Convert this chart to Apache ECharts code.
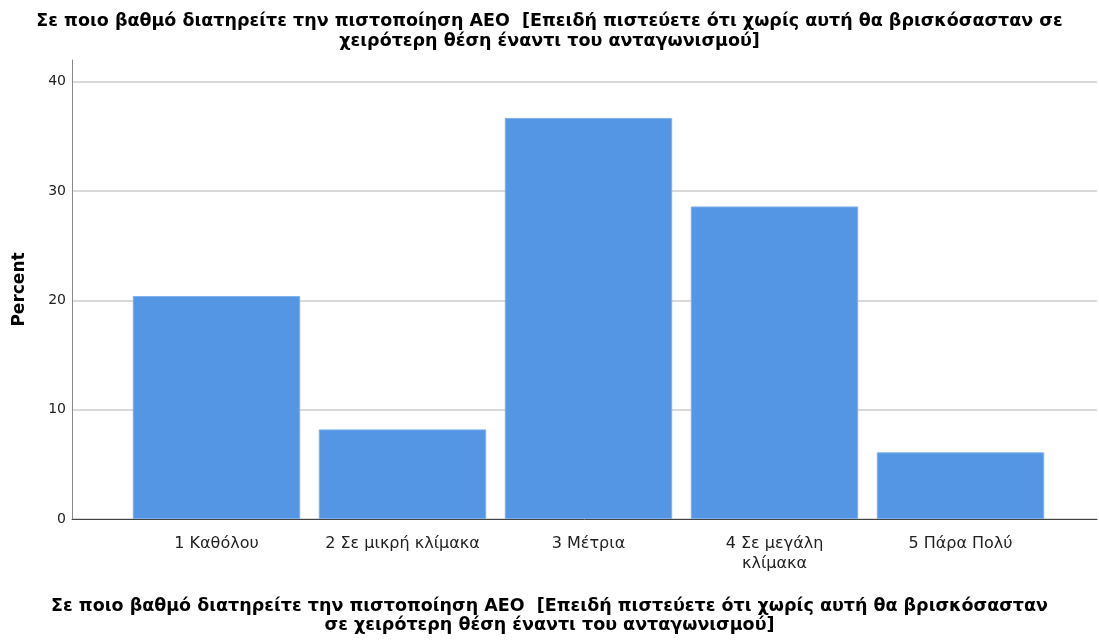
<!DOCTYPE html>
<html>
<head>
<meta charset="utf-8">
<script src="https://cdn.jsdelivr.net/npm/echarts@6/dist/echarts.min.js"></script>
<style>
html,body{margin:0;padding:0;background:#fff;}
#chart{width:1099px;height:641px;}
</style>
</head>
<body>
<div id="chart"></div>
<script>
// categories and percents (n = 49)
var categories = ['1 Καθόλου', '2 Σε μικρή κλίμακα', '3 Μέτρια', '4 Σε μεγάλη\nκλίμακα', '5 Πάρα Πολύ'];
var percents = [20.4, 8.2, 36.7, 28.6, 6.1];
var yTicks = [0, 10, 20, 30, 40];

var titleText = 'Σε ποιο βαθμό διατηρείτε την πιστοποίηση ΑΕΟ  [Επειδή πιστεύετε ότι χωρίς αυτή θα βρισκόσασταν σε\nχειρότερη θέση έναντι του ανταγωνισμού]';
var xTitleText = 'Σε ποιο βαθμό διατηρείτε την πιστοποίηση ΑΕΟ  [Επειδή πιστεύετε ότι χωρίς αυτή θα βρισκόσασταν\nσε χειρότερη θέση έναντι του ανταγωνισμού]';

var myChart = echarts.init(document.getElementById('chart'));
var font = '"DejaVu Sans", sans-serif';

var option = {
    backgroundColor: '#fff',
    animation: false,
    title: [
        {
            text: titleText,
            left: 'center',
            top: 6,
            textStyle: {fontFamily: font, fontSize: 17.5, fontWeight: 'bold', color: '#000', lineHeight: 20}
        },
        {
            text: xTitleText,
            left: 'center',
            top: 592,
            textStyle: {fontFamily: font, fontSize: 17.5, fontWeight: 'bold', color: '#000', lineHeight: 19}
        }
    ],
    grid: [
        {left: 72, right: 2, top: 60, bottom: 122},
        {left: 123.5, right: 45.5, top: 60, bottom: 122}
    ],
    xAxis: [
        {
            gridIndex: 0, type: 'value', min: 0, max: 1,
            axisLine: {show: true, lineStyle: {color: '#444', width: 1}},
            axisTick: {show: false}, axisLabel: {show: false}, splitLine: {show: false}
        },
        {
            gridIndex: 1, type: 'category', data: categories,
            axisLine: {show: false}, axisTick: {show: false},
            axisLabel: {interval: 0, fontFamily: font, fontSize: 16, color: '#222', margin: 15, lineHeight: 20}
        }
    ],
    yAxis: [
        {
            gridIndex: 0, type: 'value', min: 0, max: 42, interval: 10,
            name: 'Percent', nameLocation: 'middle', nameGap: 44,
            nameTextStyle: {fontFamily: font, fontSize: 17, fontWeight: 'bold', color: '#000'},
            axisLine: {show: true, lineStyle: {color: '#888', width: 1}},
            axisTick: {show: false},
            axisLabel: {fontFamily: font, fontSize: 14, color: '#222', margin: 6,
                formatter: function (v) { return yTicks.indexOf(v) >= 0 ? v : ''; }},
            splitLine: {show: true, showMaxLine: false, lineStyle: {color: '#d9d9d9', width: 2}}
        },
        {
            gridIndex: 1, type: 'value', min: 0, max: 42, show: false,
            splitLine: {show: false}
        }
    ],
    series: [
        {
            type: 'bar',
            xAxisIndex: 1, yAxisIndex: 1,
            data: percents,
            barWidth: '90%',
            itemStyle: {color: '#5495e4', borderColor: '#7fb0ec', borderWidth: 1}
        }
    ]
};

myChart.setOption(option);
</script>
</body>
</html>
